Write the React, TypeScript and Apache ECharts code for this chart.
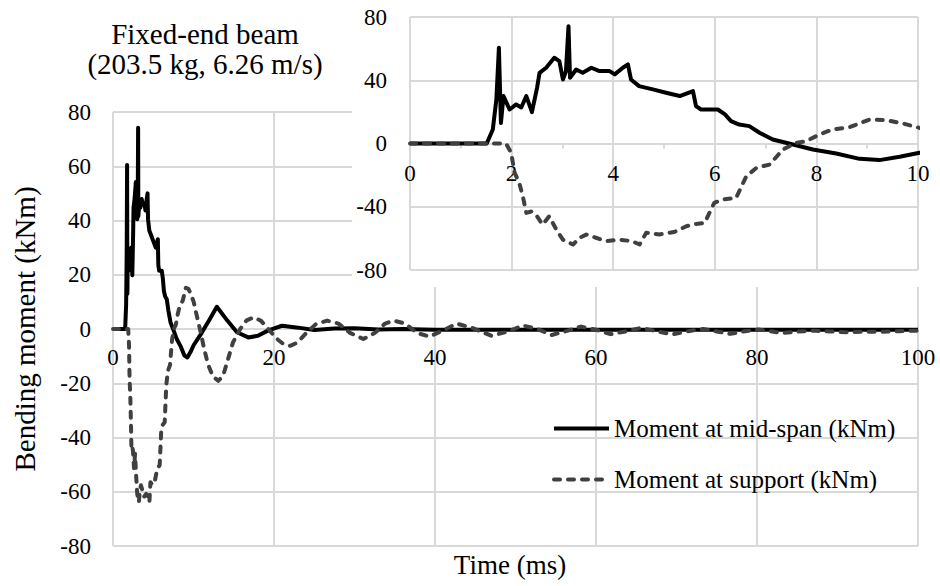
import React, { useEffect, useRef } from "react";
import * as echarts from "echarts";

// ---- data ----
const midTime = [
  0, 1.51, 1.63, 1.7, 1.75, 1.79, 1.84, 1.96, 2.09, 2.19, 2.29, 2.4, 2.5, 2.55, 2.68, 2.84, 2.94, 3.01, 3.07, 3.12,
  3.15, 3.27, 3.4, 3.57, 3.73, 3.93, 4.03, 4.19, 4.29, 4.35, 4.51, 4.78, 5.04, 5.31, 5.57, 5.63, 5.73, 6.06, 6.2,
  6.32, 6.48, 6.68, 6.88, 7.14, 7.54, 7.93, 8.39, 8.85, 9.24, 9.64, 10.03, 11.0, 12.0, 12.9, 14.2, 15.4, 16.8, 18.0,
  19.3, 21.0, 23.0, 25.0, 27.5, 30.0, 33.0, 36.0, 40.0, 100.0,
];
const midMoment = [
  0, 0, 8.9, 27.8, 60.5, 13, 30, 21.5, 24.7, 22.8, 30, 19.8, 35, 44.7, 47.9, 54.2, 52.1, 40.5, 45.7, 74.2,
  41.6, 46.8, 44.7, 47.9, 45.8, 45.8, 43.7, 47.9, 50, 40.5, 36.3, 34.2, 32.1, 30, 33.1, 23.6, 21.5, 21.5, 18.4,
  14.1, 12, 11, 6.8, 2.5, -0.6, -3.8, -6.3, -9.7, -10.5, -8.4, -5.9, -1.5, 3.5, 8.2, 3.1, -1.2, -3.1, -2.5,
  -0.5, 1.2, 0.5, -0.4, 0.2, 0.3, -0.2, 0, -0.3, -0.3,
];
const supTime = [
  0, 1.89, 1.99, 2.06, 2.15, 2.22, 2.29, 2.39, 2.48, 2.61, 2.74, 2.88, 3.01, 3.21, 3.34, 3.47, 3.66, 3.86, 4.12,
  4.38, 4.52, 4.65, 4.91, 5.2, 5.44, 5.6, 5.8, 5.99, 6.16, 6.42, 6.62, 6.82, 7.08, 7.34, 7.6, 7.8, 8.06, 8.32, 8.65,
  9.05, 9.37, 9.7, 10.03, 10.4, 10.8, 11.3, 11.8, 12.4, 13.1, 13.7, 14.3, 14.9, 15.8, 16.6, 17.5, 18.4, 19.3, 20.3,
  21.2, 22.0, 22.9, 24.0, 25.2, 26.6, 28.0, 29.5, 31.1, 32.5, 33.8, 34.9, 36.3, 37.8, 39.3, 41.0, 42.7, 44.7, 47.0,
  49.0, 50.9, 52.7, 54.5, 56.3, 58.1, 60.0, 61.8, 63.7, 65.6, 67.5, 69.5, 71.4, 73.3, 75.0, 76.7, 78.5, 80.2, 81.7,
  83.1, 85.0, 87.0, 89.0, 91.2, 93.3, 95.5, 97.7, 100.0,
];
const supMoment = [
  0, 0, -5.8, -18.5, -24.9, -33.3, -43.9, -43, -45, -51.3, -46, -54.4, -60.8, -63.9, -59.6, -57.6, -59.6, -61.8, -60.8,
  -61.8, -63.9, -56.5, -57.5, -56, -52.3, -51, -50.2, -37.5, -35.4, -34.4, -20.7, -15.4, -13.3, -3.8, 0.4, 1.5, 5.7, 8.9, 10.3,
  15.2, 14.8, 12.7, 9.9, 5, 0, -7, -13, -17.5, -19.1, -17, -11, -5, 0, 3.2, 4.3, 3, 0, -3.5,
  -5.6, -6.2, -5, -1.5, 1.8, 3.1, 2, -1.5, -3.7, -1.5, 2, 3.1, 2, -1.5, -2.8, -0.5, 2.0, 0.3, -2.5,
  -1, 1.3, 0, -2.2, -0.8, 0.9, -0.3, -1.9, -0.9, 0.4, -0.8, -2.0, -0.8, 0, -0.9, -1.8, -0.8, -0.2, -0.8,
  -1.5, -1.0, -0.6, -0.9, -1.2, -1.0, -1.0, -0.8, -0.6,
];

const mainXTicks = [0, 20, 40, 60, 80, 100];
const mainYTicks = [-80, -60, -40, -20, 0, 20, 40, 60, 80];
const insetXTicks = [0, 2, 4, 6, 8, 10];
const insetYTicks = [-80, -40, 0, 40, 80];

const seriesNames = ["Moment at mid-span (kNm)", "Moment at support (kNm)"];
const titleLines = ["Fixed-end beam", "(203.5 kg, 6.26 m/s)"];
const xTitle = "Time (ms)";
const yTitle = "Bending moment (kNm)";

const FONT = "Liberation Serif, Times New Roman, serif";
const GRID = "#d9d9d9";

// plot-area boxes (pixels)
const MAIN = { left: 113, top: 112, width: 805, height: 434 };
const INSET = { left: 410, top: 17, width: 508, height: 253 };

const pairs = (xs: number[], ys: number[]) => xs.map((x, i) => [x, ys[i]]);

export default function App() {
  const ref = useRef<HTMLDivElement>(null);
  useEffect(() => {
    if (!ref.current) return;
    const chart = echarts.init(ref.current, null, { renderer: "svg" });
    const midData = pairs(midTime, midMoment);
    const supData = pairs(supTime, supMoment);
    const labelStyle = { fontFamily: FONT, fontSize: 23, color: "#000" };
    const split = { show: true, lineStyle: { color: GRID, width: 2 } };
    const step = (t: number[]) => t[1] - t[0];
    const solid = { color: "#000", width: 4, join: "round" as const };
    const dashed = { color: "#404040", width: 4, type: [6, 8] as any, cap: "round" as const, join: "round" as const };
    // x axes sit on the y = 0 line (middle of the symmetric y range)
    const mainOffset = -(MAIN.height / 2);
    const insetOffset = -(INSET.height / 2);

    chart.setOption({
      animation: false,
      backgroundColor: "#fff",
      textStyle: { fontFamily: FONT },
      grid: [
        { ...MAIN, outerBoundsMode: "none", containLabel: false },
        { ...INSET, outerBoundsMode: "none", containLabel: false },
      ],
      xAxis: [
        {
          gridIndex: 0,
          type: "value",
          position: "bottom",
          offset: mainOffset,
          min: mainXTicks[0],
          max: mainXTicks[mainXTicks.length - 1],
          interval: step(mainXTicks),
          axisLine: { show: true, onZero: false, lineStyle: { color: GRID, width: 2 } },
          axisTick: { show: false },
          axisLabel: { ...labelStyle, margin: 17 },
          splitLine: split,
          name: xTitle,
          nameLocation: "middle",
          nameGap: 222,
          nameTextStyle: { fontFamily: FONT, fontSize: 27, color: "#000", padding: [0, 11, 0, 0] },
        },
        {
          gridIndex: 1,
          type: "value",
          position: "bottom",
          offset: insetOffset,
          min: insetXTicks[0],
          max: insetXTicks[insetXTicks.length - 1],
          interval: step(insetXTicks),
          z: 11,
          axisLine: { show: true, onZero: false, lineStyle: { color: GRID, width: 2 } },
          axisTick: { show: true, length: 5, lineStyle: { color: GRID, width: 2 } },
          minorTick: { show: true, splitNumber: 2, length: 5, lineStyle: { color: GRID, width: 2 } },
          axisLabel: { ...labelStyle, margin: 18 },
          splitLine: split,
        },
      ],
      yAxis: [
        {
          gridIndex: 0,
          type: "value",
          min: mainYTicks[0],
          max: mainYTicks[mainYTicks.length - 1],
          interval: step(mainYTicks),
          axisLine: { show: false, onZero: false },
          axisTick: { show: false },
          axisLabel: { ...labelStyle, margin: 22 },
          splitLine: split,
          name: yTitle,
          nameLocation: "middle",
          nameGap: 74,
          nameTextStyle: { fontFamily: FONT, fontSize: 29, color: "#000" },
        },
        {
          gridIndex: 1,
          type: "value",
          min: insetYTicks[0],
          max: insetYTicks[insetYTicks.length - 1],
          interval: step(insetYTicks),
          z: 11,
          axisLine: { show: false, onZero: false },
          axisTick: { show: false },
          axisLabel: { ...labelStyle, margin: 23 },
          splitLine: split,
        },
      ],
      legend: {
        orient: "vertical",
        left: 552,
        top: 416,
        padding: 0,
        itemWidth: 55,
        itemHeight: 14,
        itemGap: 26,
        data: seriesNames,
        itemStyle: { opacity: 0 },
        lineStyle: { width: 4 },
        textStyle: { fontFamily: FONT, fontSize: 25, color: "#000", lineHeight: 25 },
      },
      graphic: [
        { type: "rect", z: 10, silent: true, shape: { x: 352, y: 0, width: 588, height: 287 }, style: { fill: "#fff" } },
        {
          type: "text", z: 20, x: 205, y: 33.5,
          style: { text: titleLines[0], fontFamily: FONT, fontSize: 29, fill: "#000", align: "center", verticalAlign: "middle" },
        },
        {
          type: "text", z: 20, x: 205, y: 63.5,
          style: { text: titleLines[1], fontFamily: FONT, fontSize: 29, fill: "#000", align: "center", verticalAlign: "middle" },
        },
      ],
      series: [
        { name: seriesNames[0], type: "line", xAxisIndex: 0, yAxisIndex: 0, data: midData, symbol: "none", lineStyle: solid, itemStyle: { color: "#000" }, z: 2 },
        { name: seriesNames[1], type: "line", xAxisIndex: 0, yAxisIndex: 0, data: supData, symbol: "none", lineStyle: dashed, itemStyle: { color: "#404040" }, z: 3 },
        { name: seriesNames[0], type: "line", xAxisIndex: 1, yAxisIndex: 1, data: midData, symbol: "none", lineStyle: solid, itemStyle: { color: "#000" }, z: 12, clip: true },
        { name: seriesNames[1], type: "line", xAxisIndex: 1, yAxisIndex: 1, data: supData, symbol: "none", lineStyle: dashed, itemStyle: { color: "#404040" }, z: 13, clip: true },
      ],
    });
    return () => chart.dispose();
  }, []);
  return <div ref={ref} style={{ position: "absolute", left: 0, top: 0, width: 940, height: 586 }} />;
}
